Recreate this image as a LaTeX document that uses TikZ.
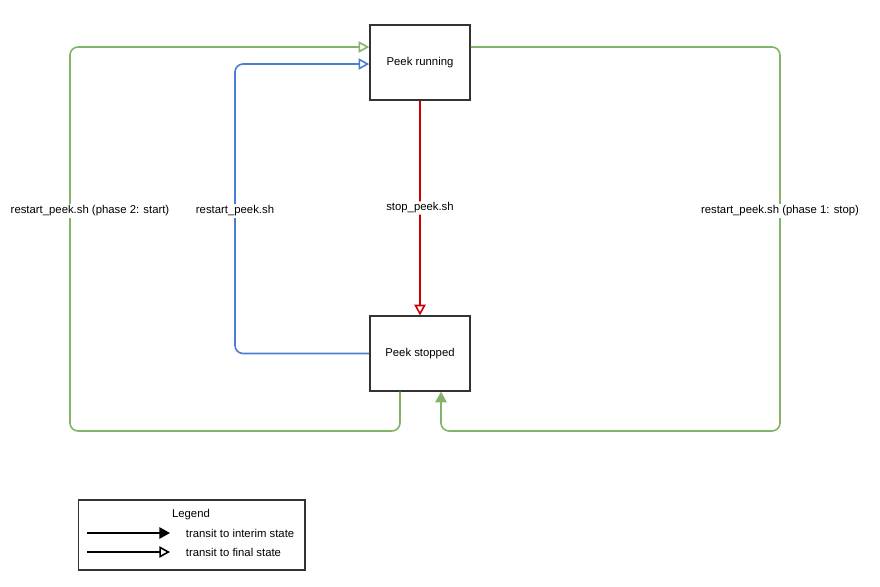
\documentclass[tikz,border=0pt]{standalone}
\usepackage{fontspec}
\setmainfont{Liberation Sans}
\usetikzlibrary{arrows.meta}
\definecolor{flowgreen}{HTML}{82B366}
\definecolor{flowblue}{HTML}{4A7DD6}
\definecolor{flowred}{HTML}{CC0000}
\begin{document}
\begin{tikzpicture}[x=0.75pt, y=-0.75pt, font=\fontsize{8.5}{10}\selectfont,
    state/.style={draw=black!80, line width=1.2pt, minimum width=75pt, minimum height=56pt, inner sep=0pt},
    edge/.style={line width=1.2pt, rounded corners=6pt},
    final/.style={-{Triangle[open, length=8pt, width=8.5pt]}},
    interim/.style={-{Triangle[length=8pt, width=8.5pt]}},
    lbl/.style={fill=white, text=black, inner sep=1pt}]
  \useasboundingbox (0,0) rectangle (880,586);

  \node[state] (run) at (420,62.5) {Peek running};
  \node[state] (stop) at (420,353.5) {Peek stopped};

  \draw[edge, flowred, final] (run) -- (stop) node[lbl, pos=0.5] {stop\_peek.sh};

  \draw[edge, flowblue, final] (stop.west) -- (235,353.5) -- (235,64) -- (run.west |- 0,64);
  \node[lbl] (blbl) at (235,211) {restart\_peek.sh};

  \draw[edge, flowgreen, final] (stop.south -| 400,0) -- (400,431) -- (70,431) -- (70,47) -- (run.west |- 0,47);
  \node[lbl] (glbl) at (90,211) {restart\_peek.sh (phase 2: start)};

  \draw[edge, flowgreen, interim] (run.east |- 0,47) -- (780,47) -- (780,431) -- (441,431) -- (stop.south -| 441,0);
  \node[lbl] (rlbl) at (780,211) {restart\_peek.sh (phase 1: stop)};

  % legend
  \node[draw=black!80, line width=1pt, minimum width=170pt, minimum height=52.5pt, inner sep=0pt] (legend) at (191.5,535) {};
  \node (ltitle) at (191,515) {Legend};
  \coordinate (a1) at (87,533);
  \coordinate (a2) at (87,552);
  \draw[line width=1.2pt, interim] (a1) -- ++(83,0) node[right=8pt, anchor=west] {transit to interim state};
  \draw[line width=1.2pt, final] (a2) -- ++(83,0) node[right=8pt, anchor=west] {transit to final state};
\end{tikzpicture}
\end{document}
